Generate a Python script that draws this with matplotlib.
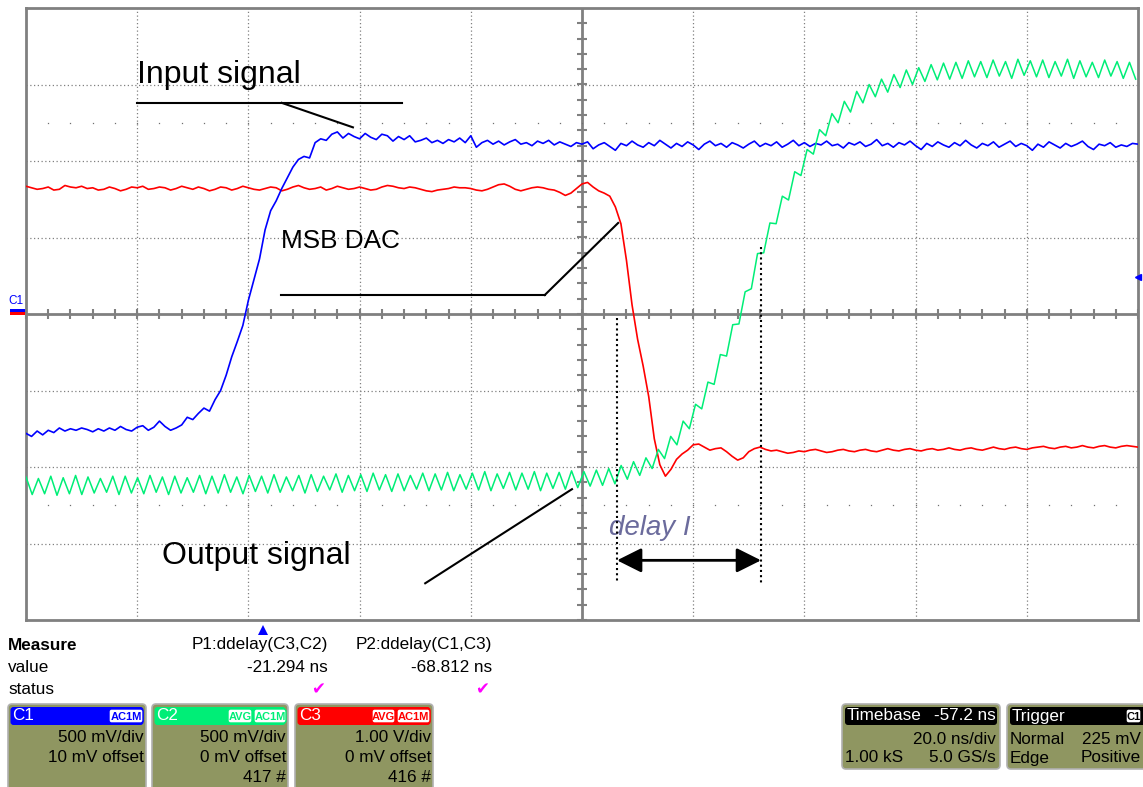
import numpy as np
import matplotlib
matplotlib.use('Agg')
import matplotlib.pyplot as plt
from matplotlib.patches import FancyBboxPatch

plt.rcParams['font.family'] = ['Liberation Sans', 'DejaVu Sans']

# ---------------- data (time in ns from left screen edge, amplitude in divisions) -------------
SAMPLE_NS = 1.0
blue_v = [
    -1.56, -1.60, -1.53, -1.58, -1.52, -1.55, -1.49, -1.53, -1.50, -1.52,
    -1.49, -1.51, -1.54, -1.50, -1.53, -1.49, -1.52, -1.47, -1.51, -1.53,
    -1.48, -1.46, -1.52, -1.48, -1.40, -1.47, -1.52, -1.49, -1.45, -1.35,
    -1.38, -1.30, -1.23, -1.27, -1.12, -1.00, -0.80, -0.56, -0.36, -0.15,
    0.18, 0.45, 0.72, 1.10, 1.35, 1.48, 1.64, 1.78, 1.92, 2.02,
    2.06, 2.04, 2.24, 2.29, 2.27, 2.35, 2.38, 2.30, 2.36, 2.32,
    2.29, 2.36, 2.31, 2.28, 2.35, 2.33, 2.26, 2.32, 2.28, 2.33,
    2.25, 2.27, 2.30, 2.24, 2.27, 2.23, 2.28, 2.25, 2.30, 2.24,
    2.33, 2.18, 2.24, 2.27, 2.22, 2.26, 2.21, 2.25, 2.28, 2.22,
    2.24, 2.20, 2.26, 2.23, 2.27, 2.21, 2.25, 2.22, 2.19, 2.24,
    2.22, 2.25, 2.16, 2.21, 2.24, 2.19, 2.14, 2.23, 2.20, 2.26,
    2.21, 2.18, 2.24, 2.20, 2.27, 2.22, 2.17, 2.23, 2.19, 2.25,
    2.21, 2.15, 2.22, 2.26, 2.20, 2.23, 2.18, 2.24, 2.21, 2.17,
    2.22, 2.26, 2.19, 2.23, 2.20, 2.25, 2.18, 2.22, 2.27, 2.20,
    2.24, 2.19, 2.23, 2.21, 2.26, 2.20, 2.22, 2.17, 2.24, 2.21,
    2.25, 2.19, 2.22, 2.28, 2.20, 2.23, 2.18, 2.24, 2.21, 2.26,
    2.20, 2.15, 2.23, 2.19, 2.25, 2.21, 2.18, 2.24, 2.20, 2.27,
    2.21, 2.17, 2.23, 2.20, 2.25, 2.18, 2.22, 2.26, 2.19, 2.23,
    2.20, 2.14, 2.22, 2.18, 2.25, 2.21, 2.17, 2.23, 2.19, 2.22,
    2.26, 2.19, 2.15, 2.22, 2.20, 2.24, 2.18, 2.21, 2.19, 2.23,
    2.22,
]
red_v = [
    1.67, 1.65, 1.63, 1.64, 1.66, 1.62, 1.63, 1.68, 1.66, 1.65,
    1.67, 1.64, 1.65, 1.62, 1.63, 1.66, 1.64, 1.61, 1.63, 1.66,
    1.65, 1.67, 1.63, 1.64, 1.66, 1.65, 1.62, 1.64, 1.67, 1.65,
    1.63, 1.66, 1.64, 1.61, 1.63, 1.66, 1.65, 1.62, 1.64, 1.67,
    1.65, 1.63, 1.62, 1.64, 1.66, 1.65, 1.61, 1.63, 1.66, 1.68,
    1.65, 1.63, 1.64, 1.66, 1.62, 1.64, 1.67, 1.65, 1.63, 1.64,
    1.66, 1.64, 1.62, 1.63, 1.66, 1.68, 1.67, 1.65, 1.64, 1.66,
    1.65, 1.63, 1.61, 1.60, 1.62, 1.63, 1.64, 1.66, 1.65, 1.65,
    1.64, 1.62, 1.61, 1.63, 1.66, 1.69, 1.70, 1.67, 1.63, 1.61,
    1.63, 1.65, 1.66, 1.65, 1.63, 1.62, 1.59, 1.55, 1.58, 1.64,
    1.70, 1.72, 1.66, 1.61, 1.58, 1.54,
    1.40, 1.18, 0.70, 0.12, -0.33, -0.68, -1.08, -1.63, -1.97, -2.12, -2.03,
    -1.90, -1.83, -1.78, -1.71, -1.70, -1.74, -1.78, -1.76, -1.75, -1.80, -1.86, -1.91, -1.88,
    -1.80, -1.76, -1.74, -1.77, -1.79, -1.78, -1.80, -1.82, -1.81, -1.79,
    -1.80, -1.78, -1.77, -1.79, -1.81, -1.80, -1.78, -1.77, -1.79, -1.80,
    -1.78, -1.77, -1.79, -1.80, -1.78, -1.76, -1.78, -1.79, -1.77, -1.76,
    -1.78, -1.79, -1.77, -1.76, -1.78, -1.77, -1.75, -1.77, -1.78, -1.76,
    -1.75, -1.77, -1.78, -1.76, -1.74, -1.76, -1.77, -1.75, -1.74, -1.76,
    -1.77, -1.75, -1.74, -1.73, -1.75, -1.76, -1.74, -1.73, -1.75, -1.74,
    -1.72, -1.74, -1.75, -1.73, -1.72, -1.74, -1.75, -1.73, -1.72, -1.73, -1.74,
]
GREEN_PERIOD_NS = 2.23
green_hi = [
    -2.13, -2.15, -2.12, -2.14, -2.11, -2.13, -2.15, -2.12, -2.12, -2.14,
    -2.11, -2.13, -2.12, -2.14, -2.11, -2.12, -2.10, -2.13, -2.11, -2.12,
    -2.10, -2.13, -2.11, -2.10, -2.12, -2.09, -2.11, -2.10, -2.08, -2.10,
    -2.09, -2.11, -2.08, -2.09, -2.07, -2.10, -2.08, -2.06, -2.09, -2.07,
    -2.08, -2.06, -2.08, -2.07, -2.05, -2.06, -2.04, -2.02,
    -1.98, -1.93, -1.88, -1.77, -1.60, -1.40, -1.18, -0.89, -0.53, -0.14,
    0.29, 0.79, 1.19, 1.54, 1.86, 2.15, 2.41, 2.62, 2.78, 2.91,
    3.00, 3.07, 3.13, 3.19, 3.22, 3.26, 3.28, 3.29, 3.31, 3.30,
    3.32, 3.30, 3.33, 3.31, 3.32, 3.30, 3.33, 3.31, 3.29, 3.32, 3.30, 3.29,
]
green_lo = [
    -2.36, -2.35, -2.37, -2.35, -2.36, -2.34, -2.33, -2.36, -2.34, -2.35,
    -2.33, -2.36, -2.34, -2.33, -2.35, -2.34, -2.33, -2.35, -2.32, -2.34,
    -2.33, -2.31, -2.34, -2.32, -2.30, -2.33, -2.31, -2.32, -2.30, -2.32,
    -2.31, -2.29, -2.31, -2.30, -2.31, -2.29, -2.30, -2.31, -2.28, -2.30,
    -2.29, -2.31, -2.28, -2.29, -2.27, -2.25, -2.24, -2.22,
    -2.16, -2.11, -2.02, -1.89, -1.71, -1.50, -1.24, -0.92, -0.55, -0.13,
    0.33, 0.80, 1.18, 1.49, 1.81, 2.09, 2.33, 2.50, 2.64, 2.76,
    2.84, 2.90, 2.96, 3.00, 3.04, 3.06, 3.07, 3.08, 3.10, 3.09,
    3.11, 3.08, 3.12, 3.10, 3.09, 3.11, 3.08, 3.10, 3.09, 3.11, 3.08, 3.07,
]
trigger_level = 0.48      # div
trigger_pos = 42.6        # ns

# measurement / channel panel texts
measure_params = ["P1:ddelay(C3,C2)", "P2:ddelay(C1,C3)"]
measure_values = ["-21.294 ns", "-68.812 ns"]
channels = ["C1", "C2", "C3"]
ch_badges = [["AC1M"], ["AVG", "AC1M"], ["AVG", "AC1M"]]
ch_scale = ["500 mV/div", "500 mV/div", "1.00 V/div"]
ch_offset = ["10 mV offset", "0 mV offset", "0 mV offset"]
ch_count = ["", "417 #", "416 #"]
timebase = ["Timebase", "-57.2 ns", "20.0 ns/div", "1.00 kS", "5.0 GS/s"]
trigger = ["Trigger", "C1", "Normal", "225 mV", "Edge", "Positive"]

BLUE = '#0000ff'
RED = '#ff0000'
GREEN = '#00ee77'
GRID = '#808080'
OLIVE = '#8f9661'

# ---------------- figure -------------------
W, H = 1143, 787
fig = plt.figure(figsize=(W / 100, H / 100), dpi=100)
fig.patch.set_facecolor('white')
ax = fig.add_axes([26 / W, 1 - 620 / H, 1112 / W, 612 / H])
ax.set_xlim(0, 200)
ax.set_ylim(-4, 4)
ax.set_xticks([])
ax.set_yticks([])
for s in ax.spines.values():
    s.set_color(GRID)
    s.set_linewidth(2)

# grid
for gx in range(20, 200, 20):
    if gx != 100:
        ax.axvline(gx, color=GRID, lw=0.9, ls=(0, (1, 2)), zorder=1)
for gy in [-3, -2, -1, 1, 2, 3]:
    ax.axhline(gy, color=GRID, lw=0.9, ls=(0, (1, 2)), zorder=1)
ax.axhline(0, color=GRID, lw=2, zorder=1)
ax.axvline(100, color=GRID, lw=2, zorder=1)
tx = np.arange(0, 200.01, 4)
ax.plot(tx, np.zeros_like(tx), ls='none', marker='|', ms=6.5, mew=1.5, color=GRID, zorder=1, clip_on=False)
ty = np.arange(-4, 4.01, 0.2)
ax.plot(np.full_like(ty, 100), ty, ls='none', marker='_', ms=6.5, mew=1.5, color=GRID, zorder=1)
for yy in (2.5, -2.5):
    ax.plot(tx, np.full_like(tx, yy), ls='none', marker='s', ms=0.9, mew=0, color='#707070', zorder=1)

# traces
blue_t = np.arange(len(blue_v)) * SAMPLE_NS
red_t = np.arange(len(red_v)) * SAMPLE_NS
gi = np.arange(len(green_hi)) * GREEN_PERIOD_NS
green_t = np.ravel(np.column_stack([gi, gi + GREEN_PERIOD_NS / 2]))
green_v = np.ravel(np.column_stack([green_hi, green_lo]))
ax.plot(red_t, red_v, color=RED, lw=1.2, zorder=3)
ax.plot(blue_t, blue_v, color=BLUE, lw=1.2, zorder=4)
ax.plot(green_t, green_v, color=GREEN, lw=1.1, zorder=5)

# annotations
ax.text(19.96, 3.02, "Input signal", fontsize=23, ha='left', va='baseline', zorder=6)
ax.plot([19.96, 67.7], [2.76, 2.76], color='black', lw=1.5, zorder=6)
ax.plot([46.0, 58.8], [2.76, 2.44], color='black', lw=1.5, zorder=6)
ax.text(45.9, 0.863, "MSB DAC", fontsize=18.8, ha='left', va='baseline', zorder=6)
ax.plot([45.9, 93.3], [0.248, 0.248], color='black', lw=1.5, zorder=6)
ax.plot([93.3, 106.5], [0.248, 1.19], color='black', lw=1.5, zorder=6)
ax.text(24.46, -3.27, "Output signal", fontsize=23, ha='left', va='baseline', zorder=6)
ax.plot([71.8, 98.2], [-3.52, -2.29], color='black', lw=1.5, zorder=6)
ax.text(104.9, -2.89, "delay I", fontsize=20, style='italic', color='#6b6b9c', ha='left', va='baseline', zorder=6)
ax.plot([106.3, 106.3], [-0.05, -3.52], color='black', lw=1.5, ls=(0, (1, 1.5)), zorder=6)
ax.plot([132.2, 132.2], [0.876, -3.52], color='black', lw=1.5, ls=(0, (1, 1.5)), zorder=6)
ax.annotate('', xy=(132.2, -3.22), xytext=(106.3, -3.22),
            arrowprops=dict(arrowstyle='<|-|>,head_length=1.0,head_width=0.5', mutation_scale=15,
                            color='black', lw=2, shrinkA=0, shrinkB=0), zorder=6)

# trigger level / position markers
ax.plot([200], [trigger_level], marker='<', ms=4, color=BLUE, clip_on=False, zorder=7)
ax.plot([trigger_pos], [-4.13], marker='^', ms=7, color=BLUE, mew=0, clip_on=False, zorder=7)

# ---------------- overlay in pixel units for the panel -------------------
ov = fig.add_axes([0, 0, 1, 1])
ov.set_xlim(0, W)
ov.set_ylim(H, 0)
ov.axis('off')

# C1 marker on left
ov.text(16, 301, "C1", fontsize=8.5, color=BLUE, ha='center', va='center')
ov.add_patch(FancyBboxPatch((10, 309), 15, 3, boxstyle='square,pad=0', fc=BLUE, ec='none'))
ov.add_patch(FancyBboxPatch((10, 312), 15, 3, boxstyle='square,pad=0', fc=RED, ec='none'))

FS = 12.3
ov.text(8, 645, "Measure", fontsize=FS, fontweight='bold', ha='left', va='center')
ov.text(8, 668, "value", fontsize=FS, ha='left', va='center')
ov.text(8, 690, "status", fontsize=FS, ha='left', va='center')
for xr, p, v in zip([328, 492], measure_params, measure_values):
    ov.text(xr, 645, p, fontsize=FS, ha='right', va='center')
    ov.text(xr, 668, v, fontsize=FS, ha='right', va='center')
    ov.text(xr - 10, 689, "\u2714", fontsize=12, color='#ff00ff', ha='center', va='center',
            family=['DejaVu Sans'])


def panel_box(x0, x1, y0, y1):
    ov.add_patch(FancyBboxPatch((x0, y0), x1 - x0, y1 - y0,
                                boxstyle='round,pad=0,rounding_size=4',
                                fc=OLIVE, ec='#b0b0b0', lw=1.2))


def badge(x0, x1, y0, y1, txt, col, fc='white'):
    ov.add_patch(FancyBboxPatch((x0, y0), x1 - x0, y1 - y0,
                                boxstyle='round,pad=0,rounding_size=2.5',
                                fc=fc, ec=col, lw=1))
    ov.text((x0 + x1) / 2, (y0 + y1) / 2 + 0.5, txt, fontsize=8, fontweight='bold',
            color=col, ha='center', va='center')


ch_x = [(8, 146), (152, 288), (295, 433)]
ch_col = [BLUE, GREEN, RED]
badge_x = [[(109, 143)], [(228, 252), (254, 286)], [(372, 395), (397, 430)]]
for (x0, x1), name, col, bl, bx, sc, off, cnt in zip(ch_x, channels, ch_col, ch_badges, badge_x,
                                                     ch_scale, ch_offset, ch_count):
    panel_box(x0, x1, 704, 800)
    ov.add_patch(FancyBboxPatch((x0 + 2.5, 707), x1 - x0 - 5, 18,
                                boxstyle='round,pad=0,rounding_size=3', fc=col, ec='none'))
    ov.text(x0 + 4, 716, name, fontsize=FS, color='white', ha='left', va='center')
    for t, (b0, b1) in zip(bl, bx):
        badge(b0, b1, 709, 723, t, col)
    ov.text(x1 - 2, 738, sc, fontsize=FS, ha='right', va='center')
    ov.text(x1 - 2, 757, off, fontsize=FS, ha='right', va='center')
    if cnt:
        ov.text(x1 - 2, 777, cnt, fontsize=FS, ha='right', va='center')

# timebase box
panel_box(842, 1000, 704, 769)
ov.add_patch(FancyBboxPatch((845, 707), 152, 18, boxstyle='round,pad=0,rounding_size=3', fc='black', ec='none'))
ov.text(847, 716, timebase[0], fontsize=FS, color='white', ha='left', va='center')
ov.text(996, 716, timebase[1], fontsize=FS, color='white', ha='right', va='center')
ov.text(996, 740, timebase[2], fontsize=FS, ha='right', va='center')
ov.text(845, 758, timebase[3], fontsize=FS, ha='left', va='center')
ov.text(996, 758, timebase[4], fontsize=FS, ha='right', va='center')

# trigger box
panel_box(1007, 1150, 704, 769)
ov.add_patch(FancyBboxPatch((1010, 707), 140, 18, boxstyle='round,pad=0,rounding_size=3', fc='black', ec='none'))
ov.text(1012, 716, trigger[0], fontsize=FS, color='white', ha='left', va='center')
badge(1126, 1141, 709, 723, trigger[1], 'black')
ov.text(1010, 740, trigger[2], fontsize=FS, ha='left', va='center')
ov.text(1141, 740, trigger[3], fontsize=FS, ha='right', va='center')
ov.text(1010, 758, trigger[4], fontsize=FS, ha='left', va='center')
ov.text(1141, 758, trigger[5], fontsize=FS, ha='right', va='center')

fig.savefig('out.png', dpi=100)
